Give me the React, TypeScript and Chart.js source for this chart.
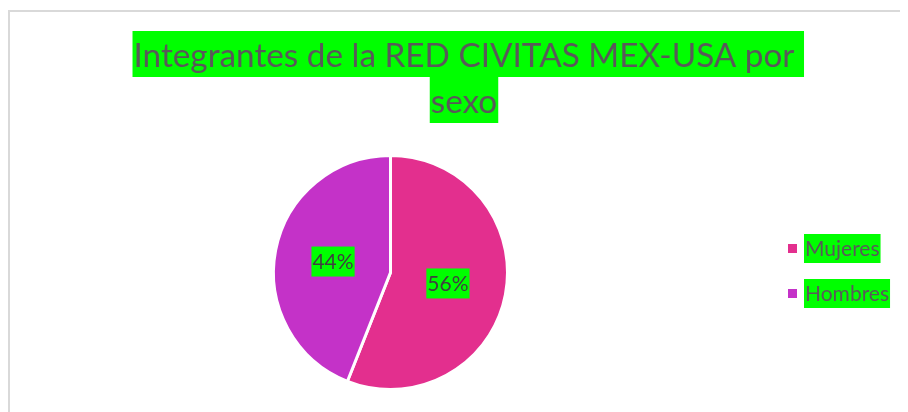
import React, { useEffect, useRef } from "react";
import { Chart, registerables } from "chart.js";

Chart.register(...registerables);

const TITLE_LINES = ["Integrantes de la RED CIVITAS MEX-USA por ", "sexo"];
const CATEGORIES = ["Mujeres", "Hombres"];
const VALUES = [56, 44];
const COLORS = ["#E32F8E", "#C432C8"];
const HIGHLIGHT = "#00FF00";
const FONT = "Lato, 'Noto Sans', sans-serif";

const overlayPlugin = {
  id: "overlay",
  afterDraw(chart: any) {
    const ctx = chart.ctx as CanvasRenderingContext2D;
    ctx.save();
    // Title
    ctx.font = `33.3px ${FONT}`;
    ctx.textBaseline = "alphabetic";
    ctx.textAlign = "left";
    const cx = 454;
    const lineTops = [19, 65];
    const lineH = 46;
    TITLE_LINES.forEach((line, i) => {
      const full = ctx.measureText(line).width;
      const trimmed = ctx.measureText(line.trimEnd()).width;
      const x0 = cx - trimmed / 2;
      ctx.fillStyle = HIGHLIGHT;
      ctx.fillRect(x0 - 1, lineTops[i], full + 2, lineH);
      ctx.fillStyle = "#595959";
      ctx.fillText(line, x0, lineTops[i] + 36);
    });

    // Data labels
    const meta = chart.getDatasetMeta(0);
    const total = VALUES.reduce((a, b) => a + b, 0);
    ctx.font = `21px ${FONT}`;
    meta.data.forEach((arc: any, i: number) => {
      const p = arc.tooltipPosition();
      const txt = Math.round((VALUES[i] / total) * 100) + "%";
      const w = ctx.measureText(txt).width;
      ctx.fillStyle = HIGHLIGHT;
      ctx.fillRect(p.x - w / 2 - 1, p.y - 15, w + 2, 30);
      ctx.fillStyle = "#404040";
      ctx.textAlign = "center";
      ctx.textBaseline = "middle";
      ctx.fillText(txt, p.x, p.y + 1);
    });

    // Legend
    ctx.font = `21px ${FONT}`;
    ctx.textAlign = "left";
    ctx.textBaseline = "middle";
    const rows = [236.5, 281.5];
    CATEGORIES.forEach((c, i) => {
      const y = rows[i];
      ctx.fillStyle = COLORS[i];
      ctx.fillRect(778, y - 4.5, 9, 9);
      const w = ctx.measureText(c).width;
      ctx.fillStyle = HIGHLIGHT;
      ctx.fillRect(794, y - 14.5, w + 2, 29);
      ctx.fillStyle = "#595959";
      ctx.fillText(c, 795, y + 1);
    });
    ctx.restore();
  },
};

export default function App() {
  const ref = useRef<HTMLCanvasElement>(null);
  useEffect(() => {
    if (!ref.current) return;
    const chart = new Chart(ref.current, {
      type: "pie",
      data: {
        labels: CATEGORIES,
        datasets: [
          {
            data: VALUES,
            backgroundColor: COLORS,
            borderColor: "#ffffff",
            borderWidth: 3,
            hoverOffset: 0,
          },
        ],
      },
      options: {
        responsive: false,
        animation: false,
        devicePixelRatio: 1,
        layout: { padding: { left: 262, top: 142, right: 411, bottom: 21 } },
        plugins: {
          legend: { display: false },
          title: { display: false },
          tooltip: { enabled: false },
        },
      },
      plugins: [overlayPlugin],
    });
    return () => chart.destroy();
  }, []);
  return (
    <div style={{ width: 900, height: 404, overflow: "hidden" }}>
      <div
        style={{
          marginTop: 2,
          width: 910,
          height: 400,
          border: "2px solid #d9d9d9",
          background: "#fff",
        }}
      >
        <canvas ref={ref} width={910} height={400} style={{ display: "block", width: 910, height: 400 }} />
      </div>
    </div>
  );
}
